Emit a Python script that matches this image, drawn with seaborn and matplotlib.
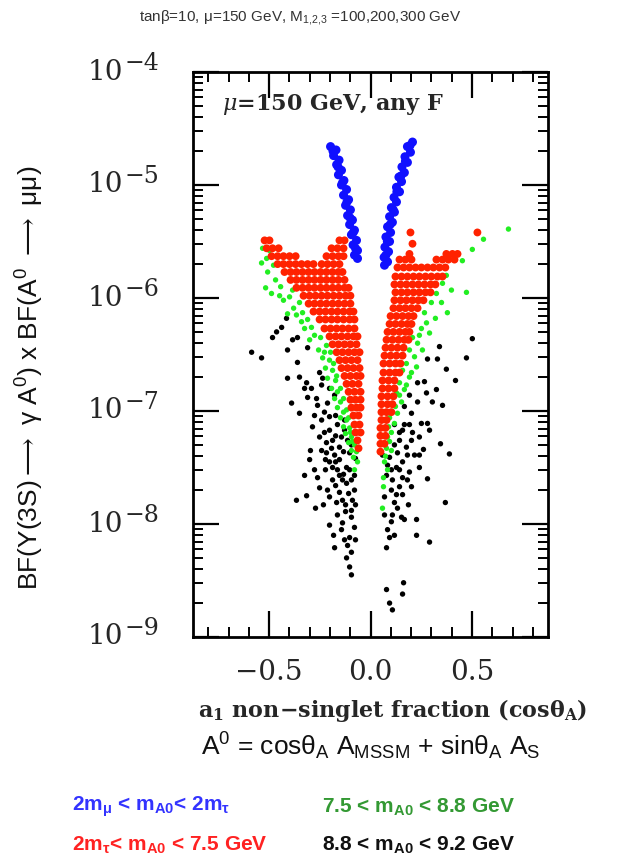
import numpy as np
import pandas as pd
import matplotlib
matplotlib.use("Agg")
import matplotlib.pyplot as plt
import matplotlib.transforms as mtransforms
import seaborn as sns
from matplotlib.ticker import FixedLocator, MultipleLocator, FuncFormatter, LogLocator, NullFormatter

# Points as (cos theta_A, log10 BF) for each A0 mass window
blue_pts = [
    (-0.197, -4.66), (-0.170, -4.69), (-0.182, -4.74), (-0.155, -4.78), (-0.167, -4.82), (-0.143, -4.87),
    (-0.158, -4.91), (-0.131, -4.96), (-0.143, -5.00), (-0.118, -5.04), (-0.133, -5.09), (-0.108, -5.13),
    (-0.123, -5.18), (-0.099, -5.22), (-0.113, -5.27), (-0.089, -5.31), (-0.103, -5.35), (-0.079, -5.40),
    (-0.094, -5.44), (-0.069, -5.49), (-0.086, -5.53), (-0.064, -5.58), (-0.079, -5.62), (-0.064, -5.65),
    (-0.185, -4.70), (-0.160, -4.84), (-0.138, -4.98), (-0.116, -5.15), (-0.101, -5.29), (-0.085, -5.42),
    (-0.074, -5.56),
    (0.207, -4.62), (0.182, -4.66), (0.197, -4.71), (0.170, -4.75), (0.182, -4.80), (0.155, -4.84),
    (0.167, -4.89), (0.140, -4.93), (0.153, -4.97), (0.128, -5.02), (0.143, -5.06), (0.116, -5.11),
    (0.128, -5.15), (0.103, -5.20), (0.118, -5.24), (0.094, -5.28), (0.108, -5.33), (0.084, -5.37),
    (0.099, -5.42), (0.076, -5.46), (0.094, -5.50), (0.071, -5.55), (0.089, -5.59), (0.067, -5.64),
    (0.084, -5.68), (0.069, -5.71),
    (0.195, -4.65), (0.172, -4.79), (0.150, -4.92), (0.130, -5.06), (0.112, -5.22), (0.097, -5.35),
    (0.083, -5.50), (0.076, -5.62),
]

red_pts = [
    # negative cos theta branch
    (-0.522, -5.49), (-0.498, -5.49), (-0.153, -5.49), (-0.128, -5.49),
    (-0.512, -5.56), (-0.483, -5.56), (-0.453, -5.56), (-0.192, -5.56), (-0.163, -5.56), (-0.133, -5.56),
    (-0.488, -5.63), (-0.458, -5.63), (-0.429, -5.63), (-0.399, -5.63), (-0.369, -5.63), (-0.217, -5.63),
    (-0.187, -5.63), (-0.158, -5.63), (-0.133, -5.63),
    (-0.458, -5.70), (-0.429, -5.70), (-0.399, -5.70), (-0.369, -5.70), (-0.340, -5.70), (-0.310, -5.70),
    (-0.281, -5.70), (-0.241, -5.70), (-0.212, -5.70), (-0.182, -5.70), (-0.153, -5.70),
    (-0.424, -5.77), (-0.394, -5.77), (-0.365, -5.77), (-0.335, -5.77), (-0.305, -5.77), (-0.276, -5.77),
    (-0.246, -5.77), (-0.217, -5.77), (-0.187, -5.77), (-0.158, -5.77), (-0.138, -5.77),
    (-0.394, -5.84), (-0.365, -5.84), (-0.335, -5.84), (-0.305, -5.84), (-0.276, -5.84), (-0.246, -5.84),
    (-0.217, -5.84), (-0.187, -5.84), (-0.158, -5.84), (-0.128, -5.84),
    (-0.365, -5.91), (-0.335, -5.91), (-0.305, -5.91), (-0.276, -5.91), (-0.246, -5.91), (-0.217, -5.91),
    (-0.187, -5.91), (-0.158, -5.91), (-0.128, -5.91), (-0.108, -5.91),
    (-0.330, -5.98), (-0.300, -5.98), (-0.271, -5.98), (-0.241, -5.98), (-0.212, -5.98), (-0.182, -5.98),
    (-0.153, -5.98), (-0.123, -5.98), (-0.099, -5.98),
    (-0.305, -6.05), (-0.276, -6.05), (-0.246, -6.05), (-0.217, -6.05), (-0.187, -6.05), (-0.158, -6.05),
    (-0.128, -6.05), (-0.099, -6.05),
    (-0.281, -6.12), (-0.251, -6.12), (-0.222, -6.12), (-0.192, -6.12), (-0.163, -6.12), (-0.133, -6.12),
    (-0.103, -6.12), (-0.084, -6.12),
    (-0.251, -6.19), (-0.222, -6.19), (-0.192, -6.19), (-0.163, -6.19), (-0.133, -6.19), (-0.103, -6.19),
    (-0.079, -6.19),
    (-0.227, -6.27), (-0.197, -6.27), (-0.167, -6.27), (-0.138, -6.27), (-0.108, -6.27), (-0.079, -6.27),
    (-0.202, -6.34), (-0.172, -6.34), (-0.143, -6.34), (-0.113, -6.34), (-0.084, -6.34), (-0.064, -6.34),
    (-0.187, -6.41), (-0.158, -6.41), (-0.128, -6.41), (-0.099, -6.41), (-0.069, -6.41),
    (-0.167, -6.48), (-0.138, -6.48), (-0.108, -6.48), (-0.079, -6.48), (-0.054, -6.48),
    (-0.153, -6.55), (-0.123, -6.55), (-0.094, -6.55), (-0.064, -6.55),
    (-0.143, -6.62), (-0.113, -6.62), (-0.084, -6.62), (-0.054, -6.62),
    (-0.128, -6.69), (-0.099, -6.69), (-0.069, -6.69), (-0.049, -6.69),
    (-0.118, -6.76), (-0.089, -6.76), (-0.059, -6.76),
    (-0.108, -6.83), (-0.079, -6.83), (-0.049, -6.83),
    (-0.099, -6.90), (-0.074, -6.90), (-0.049, -6.90),
    (-0.094, -6.97), (-0.069, -6.97), (-0.049, -6.97),
    (-0.084, -7.04), (-0.059, -7.04),
    (-0.079, -7.12), (-0.054, -7.12),
    (-0.074, -7.19), (-0.049, -7.19),
    (-0.064, -7.26), (-0.059, -7.33),
    # positive cos theta branch
    (0.197, -5.42), (0.527, -5.42), (0.207, -5.52),
    (0.192, -5.61), (0.374, -5.61), (0.404, -5.61), (0.429, -5.61),
    (0.143, -5.66), (0.172, -5.66), (0.202, -5.66), (0.325, -5.66), (0.355, -5.66), (0.384, -5.66),
    (0.414, -5.66),
    (0.133, -5.73), (0.163, -5.73), (0.192, -5.73), (0.222, -5.73), (0.251, -5.73), (0.281, -5.73),
    (0.310, -5.73), (0.340, -5.73), (0.369, -5.73),
    (0.123, -5.81), (0.153, -5.81), (0.182, -5.81), (0.212, -5.81), (0.241, -5.81), (0.271, -5.81),
    (0.300, -5.81), (0.330, -5.81), (0.355, -5.81),
    (0.118, -5.88), (0.148, -5.88), (0.177, -5.88), (0.207, -5.88), (0.236, -5.88), (0.266, -5.88),
    (0.296, -5.88), (0.320, -5.88),
    (0.123, -5.95), (0.153, -5.95), (0.182, -5.95), (0.212, -5.95), (0.241, -5.95), (0.271, -5.95),
    (0.296, -5.95),
    (0.118, -6.02), (0.148, -6.02), (0.177, -6.02), (0.207, -6.02), (0.236, -6.02), (0.261, -6.02),
    (0.113, -6.09), (0.143, -6.09), (0.172, -6.09), (0.202, -6.09), (0.232, -6.09),
    (0.099, -6.16), (0.128, -6.16), (0.158, -6.16), (0.187, -6.16), (0.212, -6.16),
    (0.094, -6.23), (0.123, -6.23), (0.153, -6.23), (0.182, -6.23), (0.202, -6.23),
    (0.084, -6.30), (0.113, -6.30), (0.143, -6.30), (0.172, -6.30), (0.192, -6.30),
    (0.079, -6.37), (0.108, -6.37), (0.138, -6.37), (0.167, -6.37), (0.187, -6.37),
    (0.074, -6.44), (0.103, -6.44), (0.133, -6.44), (0.163, -6.44),
    (0.069, -6.51), (0.099, -6.51), (0.128, -6.51), (0.158, -6.51),
    (0.064, -6.58), (0.094, -6.58), (0.123, -6.58), (0.148, -6.58),
    (0.064, -6.66), (0.094, -6.66), (0.123, -6.66), (0.143, -6.66),
    (0.059, -6.73), (0.089, -6.73), (0.118, -6.73),
    (0.059, -6.80), (0.089, -6.80), (0.118, -6.80),
    (0.054, -6.87), (0.084, -6.87), (0.113, -6.87),
    (0.054, -6.94), (0.084, -6.94), (0.108, -6.94),
    (0.054, -7.01), (0.079, -7.01), (0.103, -7.01),
    (0.054, -7.08), (0.079, -7.08),
    (0.049, -7.15), (0.074, -7.15),
    (0.049, -7.22), (0.074, -7.22),
    (0.049, -7.29), (0.069, -7.29),
    (0.049, -7.36),
]

green_pts = [
    (-0.532, -5.56), (-0.512, -5.65), (-0.537, -5.69), (-0.507, -5.77), (-0.468, -5.84), (-0.517, -5.91),
    (-0.488, -5.96), (-0.443, -5.90), (-0.384, -5.93), (-0.429, -6.02), (-0.399, -5.99), (-0.350, -6.04),
    (-0.379, -6.09), (-0.335, -6.13), (-0.409, -6.14), (-0.310, -6.19), (-0.340, -6.21), (-0.291, -6.26),
    (-0.276, -6.33), (-0.246, -6.35), (-0.300, -6.37), (-0.217, -6.42), (-0.256, -6.46), (-0.236, -6.53),
    (-0.202, -6.55), (-0.222, -6.62), (-0.187, -6.64), (-0.212, -6.71), (-0.172, -6.73), (-0.192, -6.80),
    (-0.163, -6.83), (-0.177, -6.89), (-0.148, -6.92), (-0.163, -6.97), (-0.133, -7.01), (-0.148, -7.06),
    (-0.118, -7.08), (-0.133, -7.14), (-0.103, -7.15), (-0.123, -7.20), (-0.094, -7.23), (-0.108, -7.28),
    (-0.079, -7.30), (-0.094, -7.35), (-0.069, -7.36), (-0.084, -7.41), (-0.064, -7.45), (-0.079, -7.52),
    (-0.227, -6.48), (-0.197, -6.48), (-0.182, -6.58), (-0.167, -6.69), (-0.148, -6.80), (-0.133, -6.89),
    (-0.118, -6.99), (-0.108, -7.06), (-0.099, -7.19), (-0.089, -7.27), (-0.498, -5.58), (-0.478, -5.71),
    (-0.448, -5.98), (-0.365, -6.15), (-0.325, -6.27),
    (0.680, -5.39), (0.557, -5.48), (0.502, -5.57), (0.453, -5.67), (0.374, -5.80), (0.355, -5.87),
    (0.325, -5.96), (0.473, -5.95), (0.350, -6.04), (0.300, -6.04), (0.379, -6.13), (0.276, -6.22),
    (0.251, -6.27), (0.291, -6.31), (0.207, -6.35), (0.232, -6.40), (0.256, -6.46), (0.192, -6.46),
    (0.217, -6.52), (0.177, -6.58), (0.227, -6.61), (0.158, -6.64), (0.192, -6.70), (0.143, -6.75),
    (0.167, -6.81), (0.128, -6.84), (0.153, -6.92), (0.123, -6.96), (0.133, -7.02), (0.094, -7.06),
    (0.118, -7.11), (0.089, -7.14), (0.103, -7.19), (0.084, -7.23), (0.094, -7.27), (0.079, -7.33),
    (0.103, -7.35), (0.074, -7.40), (0.069, -7.45), (0.084, -7.52), (0.064, -7.59), (0.064, -7.67),
    (0.059, -7.86), (0.266, -6.13), (0.320, -6.18), (0.241, -6.33), (0.202, -6.66), (0.177, -6.77),
    (0.143, -6.86), (0.399, -5.93),
]

black_pts = [
    (-0.414, -6.18), (-0.438, -6.26), (-0.463, -6.30), (-0.483, -6.35), (-0.384, -6.37), (-0.360, -6.35),
    (-0.586, -6.48), (-0.537, -6.53), (-0.409, -6.46), (-0.310, -6.44), (-0.360, -6.57), (-0.409, -6.71),
    (-0.251, -6.66), (-0.236, -6.71), (-0.325, -6.80), (-0.291, -6.80), (-0.241, -6.77), (-0.202, -6.80),
    (-0.310, -6.88), (-0.266, -6.89), (-0.389, -6.93), (-0.212, -6.93), (-0.350, -7.02), (-0.227, -7.01),
    (-0.202, -7.05), (-0.350, -6.70), (-0.315, -6.75), (-0.286, -7.14), (-0.251, -7.23), (-0.227, -7.19),
    (-0.217, -7.28), (-0.187, -7.26), (-0.217, -7.37), (-0.153, -7.43), (-0.187, -7.50), (-0.153, -7.57),
    (-0.118, -7.64), (-0.079, -7.70), (-0.212, -7.70), (-0.251, -7.68), (-0.300, -7.43), (-0.276, -7.52),
    (-0.365, -7.79), (-0.315, -7.75), (-0.271, -7.86), (-0.202, -8.01), (-0.177, -8.21), (-0.118, -8.30),
    (-0.103, -8.38), (-0.094, -8.25), (-0.103, -8.12), (-0.138, -7.99), (-0.079, -8.03), (-0.094, -7.88),
    (-0.089, -7.79), (-0.138, -7.79), (-0.167, -7.81), (-0.094, -7.94), (-0.103, -7.37), (-0.118, -7.50),
    (-0.153, -7.32), (-0.128, -7.17), (-0.163, -7.12), (-0.177, -7.39), (-0.138, -7.61), (-0.108, -7.73),
    (-0.172, -7.04), (-0.143, -7.23), (-0.094, -8.45), (-0.128, -8.14), (-0.187, -7.61), (-0.241, -7.35),
    (-0.163, -7.52), (-0.123, -7.83), (-0.202, -7.45), (-0.079, -7.57), (-0.261, -6.95), (-0.177, -6.86),
    (-0.202, -7.17), (-0.172, -7.22), (-0.113, -7.26), (-0.094, -7.30), (-0.192, -7.33), (-0.133, -7.36),
    (-0.074, -7.42), (-0.172, -7.45), (-0.103, -7.52), (-0.222, -7.52), (-0.133, -7.56), (-0.172, -7.66),
    (-0.094, -7.61), (-0.202, -7.76), (-0.153, -7.72), (-0.123, -7.89), (-0.163, -7.92), (-0.074, -7.83),
    (-0.232, -7.83), (-0.143, -8.05), (-0.113, -8.19), (-0.074, -8.14), (-0.182, -8.10), (-0.241, -7.08),
    (-0.276, -7.04), (-0.128, -7.08), (-0.296, -7.35), (-0.261, -7.59), (-0.325, -7.57), (-0.222, -7.43),
    (0.084, -8.05), (0.094, -8.12), (0.079, -8.58), (0.094, -8.70), (0.108, -8.76), (0.163, -8.52),
    (0.158, -8.62), (0.108, -7.92), (0.153, -7.94), (0.118, -7.81), (0.128, -7.74), (0.158, -7.74),
    (0.143, -7.67), (0.108, -7.61), (0.158, -7.59), (0.192, -7.54), (0.128, -7.50), (0.158, -7.45),
    (0.094, -7.41), (0.133, -7.37), (0.177, -7.32), (0.143, -7.26), (0.207, -7.19), (0.241, -7.23),
    (0.241, -7.50), (0.281, -7.60), (0.227, -7.96), (0.227, -8.10), (0.291, -8.16), (0.369, -7.81),
    (0.389, -7.38), (0.345, -7.29), (0.261, -7.34), (0.251, -7.11), (0.158, -7.17), (0.502, -6.36),
    (0.473, -6.53), (0.340, -6.43), (0.330, -6.54), (0.281, -6.54), (0.374, -6.63), (0.419, -6.73),
    (0.266, -6.74), (0.232, -6.75), (0.276, -6.84), (0.325, -6.81), (0.232, -6.92), (0.305, -6.92),
    (0.192, -6.86), (0.202, -7.02), (0.167, -6.96), (0.355, -6.95), (0.143, -7.19), (0.118, -7.30),
    (0.103, -7.52), (0.182, -7.39), (0.202, -7.67), (0.069, -7.76), (0.187, -7.83), (0.103, -7.98),
    (0.281, -7.11), (0.079, -7.57), (0.217, -7.39), (0.167, -7.12),
    (0.118, -7.12), (0.192, -7.12), (0.084, -7.48), (0.143, -7.52), (0.103, -7.70), (0.182, -7.61),
    (0.133, -7.86), (0.069, -7.92), (0.202, -7.26), (0.291, -7.17), (0.118, -8.10), (0.079, -8.21),
    (0.241, -7.39), (0.167, -7.96), (0.059, -7.39),
]

band_labels = ["8.8-9.2 GeV", "7.5-8.8 GeV", "2mtau-7.5 GeV", "2mmu-2mtau"]
band_points = [black_pts, green_pts, red_pts, blue_pts]
band_colors = {"8.8-9.2 GeV": "#000000", "7.5-8.8 GeV": "#22ee22",
               "2mtau-7.5 GeV": "#ff2200", "2mmu-2mtau": "#1010ff"}
band_sizes = {"8.8-9.2 GeV": 15, "7.5-8.8 GeV": 15, "2mtau-7.5 GeV": 32, "2mmu-2mtau": 42}

x_ticks = [-0.5, 0.0, 0.5]
x_tick_labels = ["\u22120.5", "0.0", "0.5"]
y_decades = [-9, -8, -7, -6, -5, -4]

frames = []
for lab, pts in zip(band_labels, band_points):
    arr = np.array(pts)
    frames.append(pd.DataFrame({"cos_theta": arr[:, 0], "bf": 10.0 ** arr[:, 1], "band": lab}))
df = pd.concat(frames, ignore_index=True)

sns.set_theme(style="ticks")
plt.rcParams.update({
    "font.family": ["DejaVu Serif"],
    "mathtext.fontset": "custom",
    "mathtext.rm": "DejaVu Serif",
    "mathtext.it": "DejaVu Serif:italic",
    "mathtext.bf": "DejaVu Serif:bold",
    "mathtext.sf": "Liberation Sans",
    "mathtext.tt": "Liberation Sans:bold",
})

fig = plt.figure(figsize=(6.28, 8.66), dpi=100)
fig.patch.set_facecolor("white")
rect = [193 / 628, 1 - 637 / 866, 355 / 628, 565 / 866]

# data axes: only the scatter, no frame of its own
ax = fig.add_axes(rect)
sns.scatterplot(data=df, x="cos_theta", y="bf", hue="band", size="band",
                palette=band_colors, sizes=band_sizes, linewidth=0, edgecolor="none",
                legend=False, ax=ax)
ax.set_yscale("log")
ax.set_ylim(10.0 ** y_decades[0], 10.0 ** y_decades[-1])
ax.set_xlim(-0.875, 0.875)
ax.set_xlabel("")
ax.set_ylabel("")
ax.tick_params(which="both", length=0, labelleft=False, labelbottom=False)
for sp in ax.spines.values():
    sp.set_visible(False)

# frame axes on top, sharing both scales, carries the spines and ticks
fax = fig.add_axes(rect, sharex=ax, sharey=ax, zorder=5)
fax.patch.set_visible(False)
fax.set_yscale("log")
fax.set_ylim(10.0 ** y_decades[0], 10.0 ** y_decades[-1])
fax.set_xlim(-0.875, 0.875)
fax.xaxis.set_major_locator(FixedLocator(x_ticks))
fax.xaxis.set_major_formatter(FuncFormatter(lambda v, p: x_tick_labels[int(np.argmin(np.abs(np.array(x_ticks) - v)))]))
fax.xaxis.set_minor_locator(MultipleLocator(0.1))
fax.yaxis.set_major_locator(FixedLocator([10.0 ** d for d in y_decades]))
fax.yaxis.set_major_formatter(NullFormatter())
fax.yaxis.set_minor_locator(LogLocator(base=10, subs=np.arange(2, 10), numticks=20))
fax.yaxis.set_minor_formatter(NullFormatter())
fax.tick_params(which="both", direction="in", top=True, right=True, color="black")
fax.tick_params(which="major", length=19, width=1.6)
fax.tick_params(which="minor", length=7.5, width=1.4)
fax.tick_params(axis="x", which="major", labelsize=20, pad=16)
for sp in fax.spines.values():
    sp.set_visible(True)
    sp.set_linewidth(2.0)
    sp.set_color("black")

# decade labels: "10" with a large raised exponent
ytrans = mtransforms.blended_transform_factory(fax.transAxes, fax.transData)
base_tr = mtransforms.offset_copy(ytrans, fig=fig, x=-50, y=0, units="points")
exp_tr = mtransforms.offset_copy(ytrans, fig=fig, x=-49, y=6, units="points")
for d in y_decades:
    fax.text(0, 10.0 ** d, "10", transform=base_tr, fontsize=20, ha="right", va="center", clip_on=False)
    fax.text(0, 10.0 ** d, "\u2212%d" % abs(d), transform=exp_tr, fontsize=17, ha="left", va="center",
             clip_on=False)

fax.text(0.082, 0.942, r"$\mu$=150 GeV, any F", transform=fax.transAxes,
         fontsize=16, fontweight="bold", ha="left", va="center")

sans = ["Liberation Sans", "DejaVu Sans"]
fig.text(300 / 628, 1 - 17 / 866,
         "tan\u03b2=10, \u03bc=150 GeV, M$_{\\mathsf{1{,}2{,}3}}$ =100,200,300 GeV",
         family=sans, fontsize=11, color="#333333", ha="center", va="center")
fig.text(30 / 628, 1 - 378 / 866,
         "BF(\u03a5(3S)$\\longrightarrow$ \u03b3 A$^{\\mathsf{0}}$) x BF(A$^{\\mathsf{0}}$ $\\longrightarrow$ \u03bc\u03bc)",
         family=sans, fontsize=19, rotation=90, ha="center", va="center", color="#111111")
fig.text(393 / 628, 1 - 710 / 866,
         "a$_{\\mathbf{1}}$ non\u2212singlet fraction (cos$\\mathbf{\\theta_A}$)",
         fontsize=16, fontweight="bold", ha="center", va="center")
fig.text(371 / 628, 1 - 746 / 866,
         "A$^{\\mathsf{0}}$ = cos\u03b8$_{\\mathsf{A}}$ A$_{\\mathsf{MSSM}}$ + sin\u03b8$_{\\mathsf{A}}$ A$_{\\mathsf{S}}$",
         family=sans, fontsize=19, ha="center", va="center", color="#111111")

legend_rows = [
    (72, 807, "2m$_{\\mathtt{\u03bc}}$ < m$_{\\mathtt{A0}}$< 2m$_{\\mathtt{\u03c4}}$", "#3333ff"),
    (72, 845, "2m$_{\\mathtt{\u03c4}}$< m$_{\\mathtt{A0}}$ < 7.5 GeV", "#ff2222"),
    (322, 807, "7.5 < m$_{\\mathtt{A0}}$ < 8.8 GeV", "#339933"),
    (322, 845, "8.8 < m$_{\\mathtt{A0}}$ < 9.2 GeV", "#111111"),
]
for px, py, txt, col in legend_rows:
    fig.text(px / 628, 1 - py / 866, txt, family=sans, fontsize=15, fontweight="bold",
             color=col, ha="left", va="center")

fig.savefig("out.png", dpi=100, facecolor="white")
